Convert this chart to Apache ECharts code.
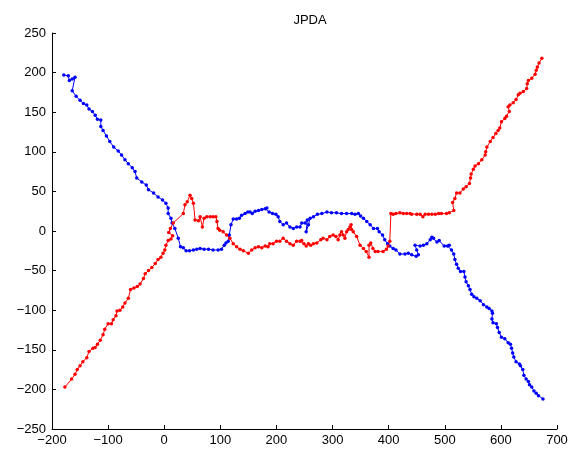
<!DOCTYPE html>
<html>
<head>
<meta charset="utf-8">
<title>JPDA</title>
<script src="https://cdn.jsdelivr.net/npm/echarts@6/dist/echarts.min.js"></script>
<style>
  html, body { margin: 0; padding: 0; background: #fff; }
  #chart { width: 584px; height: 453px; }
</style>
</head>
<body>
<div id="chart"></div>
<script>
// track 1 (blue)
const blueX = [-179, -171, -169, -164, -159, -164, -157, -150, -144, -138, -134, -128, -123, -119, -113, -113,
  -109, -103, -97, -90, -82, -76, -70, -64, -57, -52, -49, -40, -32, -28, -19, -11, -3, 3, 7,
  7, 12, 14, 19, 25, 29, 34, 39, 45, 52, 58, 64, 71, 79, 87, 96, 102, 107, 110, 114, 116, 119,
  123, 129, 134, 138, 144, 149, 153, 157, 162, 168, 174, 180, 183, 187, 193, 199, 203, 206, 212,
  218, 224, 230, 236, 242, 245, 251, 255, 253, 257, 260, 266, 273, 281, 290, 298, 307, 316, 325,
  334, 340, 346, 350, 355, 361, 367, 373, 380, 383, 389, 393, 398, 402, 408, 413, 420, 429, 435,
  441, 449, 453, 450, 447, 456, 462, 468, 474, 477, 480, 486, 490, 499, 505, 508, 512, 516, 518,
  521, 524, 528, 534, 536, 538, 542, 545, 548, 552, 557, 563, 569, 575, 579, 584, 585, 584, 586,
  592, 594, 597, 601, 607, 613, 617, 619, 621, 623, 627, 633, 635, 639, 641, 645, 649, 651, 655,
  659, 663, 667, 675]
const blueY = [197, 196, 190, 192, 194, 177, 170, 165, 161, 159, 154, 151, 146, 141, 140, 132,
  127, 120, 113, 106, 101, 96, 90, 85, 80, 75, 67, 62, 58, 52, 48, 43, 39, 35, 29,
  22, 16, 10, 3, -9, -20, -21, -25, -25, -24, -23, -22, -23, -23, -24, -24, -23, -18, -15, -13, -5, 8,
  15, 15, 16, 20, 22, 24, 24, 22, 25, 26, 27, 28, 29, 24, 22, 21, 18, 12, 8,
  10, 5, 3, 5, 5, 10, 10, 14, -1, 8, 16, 18, 21, 22, 24, 23, 23, 22, 22,
  22, 21, 22, 19, 16, 12, 8, 3, 3, -1, -5, -11, -16, -19, -22, -24, -29, -29, -28,
  -30, -32, -30, -24, -18, -19, -18, -16, -11, -8, -9, -14, -12, -19, -19, -18, -24, -29, -36,
  -42, -47, -51, -51, -58, -64, -69, -74, -80, -83, -85, -88, -93, -96, -98, -101, -104, -111, -116,
  -117, -122, -128, -134, -136, -141, -143, -148, -154, -159, -165, -168, -170, -175, -182, -187, -190, -194, -197,
  -202, -205, -208, -212]

// track 2 (red)
const redX = [-177, -165, -159, -155, -150, -145, -138, -134, -127, -123, -119, -114, -109, -106, -100, -94,
  -91, -86, -84, -79, -74, -70, -64, -60, -54, -48, -43, -37, -34, -28, -22, -16, -11, -6, -2,
  1, 3, 7, 12, 15, 8, 11, 16, 34, 37, 41, 46, 49, 52, 55, 61, 64, 68, 71, 76, 82, 87, 92,
  94, 96, 99, 105, 111, 117, 123, 129, 135, 141, 150, 156, 162, 168, 174, 180, 185, 188, 194,
  200, 206, 212, 218, 224, 230, 236, 242, 245, 249, 253, 257, 261, 266, 272, 279, 283, 290, 295,
  301, 306, 310, 313, 316, 319, 322, 325, 328, 331, 333, 334, 337, 343, 349, 355, 360, 365, 365,
  368, 372, 376, 381, 390, 396, 399, 402, 404, 408, 413, 420, 426, 432, 438, 441, 450, 456, 461,
  465, 471, 477, 483, 489, 494, 503, 508, 516, 514, 518, 521, 527, 533, 538, 544, 546, 547, 551,
  554, 560, 566, 572, 573, 575, 581, 586, 591, 595, 598, 601, 607, 610, 615, 613, 616, 622, 627,
  631, 634, 640, 646, 647, 649, 655, 661, 663, 665, 668, 673]
const redY = [-197, -187, -181, -175, -170, -165, -160, -152, -148, -147, -143, -138, -131, -124, -117, -117,
  -112, -107, -101, -100, -96, -91, -85, -74, -72, -70, -67, -60, -54, -50, -46, -41, -36, -33, -28,
  -24, -18, -12, -10, -6, -2, 3, 10, 22, 33, 37, 45, 41, 35, 14, 13, 18, 5, 16, 18, 18, 18, 18,
  12, 3, 1, -1, -5, -9, -16, -20, -23, -25, -28, -24, -21, -20, -21, -19, -20, -16, -16,
  -13, -13, -9, -13, -16, -18, -13, -13, -12, -16, -19, -16, -18, -16, -15, -11, -9, -11, -7,
  -5, -7, -11, -5, -1, -5, -9, -1, 2, 5, 8, 2, -1, -7, -18, -22, -26, -33, -18,
  -15, -22, -26, -26, -26, -23, -19, -13, 22, 21, 22, 23, 22, 22, 22, 21, 21, 21, 18,
  21, 21, 21, 21, 22, 22, 22, 23, 26, 36, 41, 48, 48, 53, 56, 60, 67, 72, 78,
  82, 85, 90, 96, 100, 106, 113, 118, 123, 127, 130, 138, 142, 145, 151, 157, 159, 162, 166,
  172, 174, 176, 180, 186, 190, 193, 198, 203, 207, 212, 218]

const xTicks = [-200, -100, 0, 100, 200, 300, 400, 500, 600, 700]
const yTicks = [-250, -200, -150, -100, -50, 0, 50, 100, 150, 200, 250]

const pairs = (xs, ys) => xs.map((x, i) => [x, ys[i]])
const minus = (v) => String(v).replace('-', '\u2212')

const myChart = echarts.init(document.getElementById('chart'), null, { renderer: 'canvas' })

const axisCommon = {
  type: 'value',
  splitLine: { show: false },
  axisLine: { show: true, onZero: false, lineStyle: { color: '#000', width: 1 } },
  axisTick: { show: true, inside: true, length: 4, lineStyle: { color: '#000' } },
  axisLabel: {
    color: '#000',
    fontFamily: 'Liberation Sans, Arial, sans-serif',
    fontSize: 13,
    formatter: minus,
  },
}

const lineSeries = (name, data, color) => ({
  name,
  type: 'line',
  data,
  symbol: 'circle',
  symbolSize: 3.5,
  showSymbol: true,
  animation: false,
  lineStyle: { color, width: 1 },
  itemStyle: { color },
})

const option = {
  backgroundColor: '#fff',
  animation: false,
  title: {
    text: 'JPDA',
    left: 305,
    textAlign: 'center',
    top: 9,
    textStyle: {
      color: '#000',
      fontWeight: 'normal',
      fontSize: 13,
      fontFamily: 'Liberation Sans, Arial, sans-serif',
    },
  },
  grid: { left: 52, right: 27, top: 33, bottom: 24, containLabel: false },
  xAxis: {
    ...axisCommon,
    min: xTicks[0],
    max: xTicks[xTicks.length - 1],
    interval: 100,
    axisLabel: { ...axisCommon.axisLabel, margin: 5 },
  },
  yAxis: {
    ...axisCommon,
    min: yTicks[0],
    max: yTicks[yTicks.length - 1],
    interval: 50,
    axisLabel: { ...axisCommon.axisLabel, margin: 6 },
  },
  series: [
    lineSeries('track 1', pairs(blueX, blueY), '#0000ff'),
    lineSeries('track 2', pairs(redX, redY), '#ff0000'),
  ],
}

myChart.setOption(option)
</script>
</body>
</html>
